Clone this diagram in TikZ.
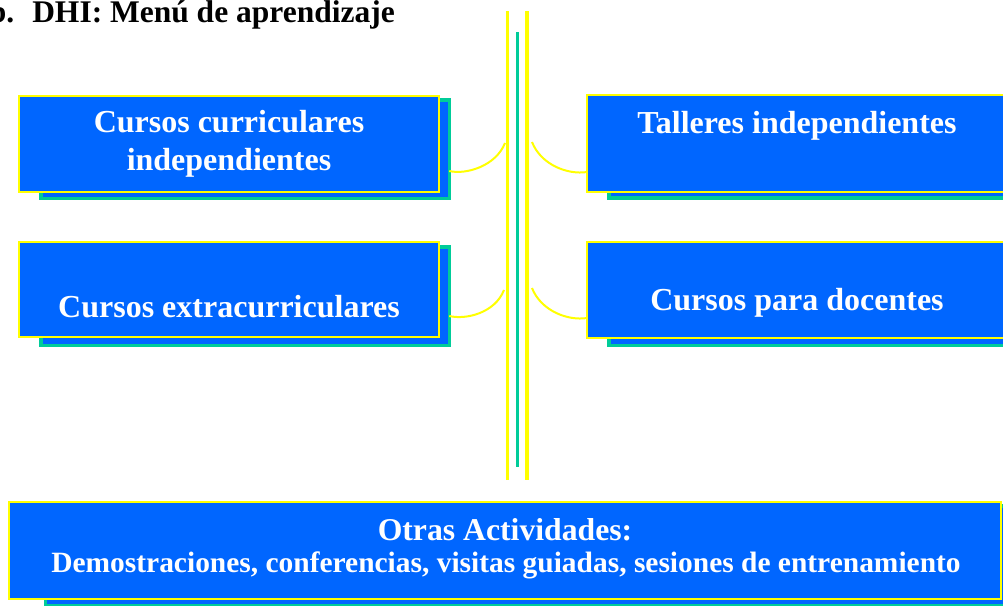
\documentclass[tikz,border=0pt]{standalone}
\usepackage{fontspec}
\setmainfont{Liberation Serif}
\definecolor{boxblue}{RGB}{0,102,255}
\definecolor{edgeyellow}{RGB}{255,255,0}
\definecolor{shadowteal}{RGB}{0,204,153}
\begin{document}
\begin{tikzpicture}[x=1pt,y=-1pt,
  shadowbox/.style={rectangle, draw=shadowteal, line width=3.5pt, fill=boxblue, inner sep=0pt, outer sep=0pt},
  frontbox/.style={rectangle, draw=edgeyellow, line width=2pt, fill=boxblue, inner sep=0pt, outer sep=0pt},
  boxtext/.style={text=white, font=\bfseries\fontsize{32}{38}\selectfont, inner sep=0pt, anchor=base, align=center},
  titletext/.style={text=black, font=\bfseries\fontsize{31.5}{38}\selectfont, inner sep=0pt, anchor=base east},
  rail/.style={draw=edgeyellow, line width=3.3pt},
  midrail/.style={draw=shadowteal, line width=3pt},
  linkarc/.style={draw=edgeyellow, line width=2pt}]
\useasboundingbox (0,0) rectangle (1003,605);

% title
\node[titletext] (title) at (395,22) {b.\hspace{18pt}DHI: Menú de aprendizaje};

% central rails
\coordinate (ltop) at (507.7,11);  \coordinate (lbot) at (507.7,480);
\coordinate (rtop) at (527,11);    \coordinate (rbot) at (527,480);
\coordinate (mtop) at (517.3,32);  \coordinate (mbot) at (517.3,467);
\draw[rail] (ltop) -- (lbot);
\draw[rail] (rtop) -- (rbot);
\draw[midrail] (mtop) -- (mbot);

% box 1: Cursos curriculares independientes
\node[shadowbox, minimum width=408.5pt, minimum height=98.5pt] (b1s) at (245,149) {};
\node[frontbox, minimum width=420pt, minimum height=96pt] (b1) at (229,144) {};
\node[boxtext] (t1) at (229,170) {Cursos curriculares\\independientes};

% box 2: Cursos extracurriculares
\node[shadowbox, minimum width=408.5pt, minimum height=98.5pt] (b2s) at (245,296) {};
\node[frontbox, minimum width=420pt, minimum height=95pt] (b2) at (229,289.5) {};
\node[boxtext] (t2) at (229,317) {Cursos extracurriculares};

% box 3: Talleres independientes
\node[shadowbox, minimum width=408.5pt, minimum height=98.5pt] (b3s) at (813,148.5) {};
\node[frontbox, minimum width=420pt, minimum height=97pt] (b3) at (797,143.5) {};
\node[boxtext] (t3) at (797,133) {Talleres independientes};

% box 4: Cursos para docentes
\node[shadowbox, minimum width=408.5pt, minimum height=98.5pt] (b4s) at (813,296) {};
\node[frontbox, minimum width=420pt, minimum height=96pt] (b4) at (797,290) {};
\node[boxtext] (t4) at (797,310) {Cursos para docentes};

% bottom box
\node[shadowbox, minimum width=966pt, minimum height=100pt] (b5s) at (528.5,556) {};
\node[frontbox, minimum width=992pt, minimum height=97pt] (b5) at (505,550.5) {};
\node[boxtext, font=\bfseries\fontsize{31.7}{38}\selectfont] (t5a) at (505,540) {Otras Actividades:};
\node[boxtext, font=\bfseries\fontsize{29.45}{34}\selectfont] (t5b) at (506,572) {Demostraciones, conferencias, visitas guiadas, sesiones de entrenamiento};

% connectors to rails
\coordinate (l1) at (505,143);
\coordinate (r1) at (532,142);
\coordinate (l2) at (504,290);
\coordinate (r2) at (532,288);
\draw[linkarc] ([yshift=-22pt]b1s.east) .. controls (466,175) and (496,166) .. (l1);
\draw[linkarc] (r1) .. controls (541,165) and (568,175) .. ([yshift=-28.5pt]b3.west);
\draw[linkarc] ([yshift=-20pt]b2s.east) .. controls (466,320) and (495,313) .. (l2);
\draw[linkarc] (r2) .. controls (541,311) and (568,321) .. ([yshift=-28pt]b4.west);
\end{tikzpicture}
\end{document}
